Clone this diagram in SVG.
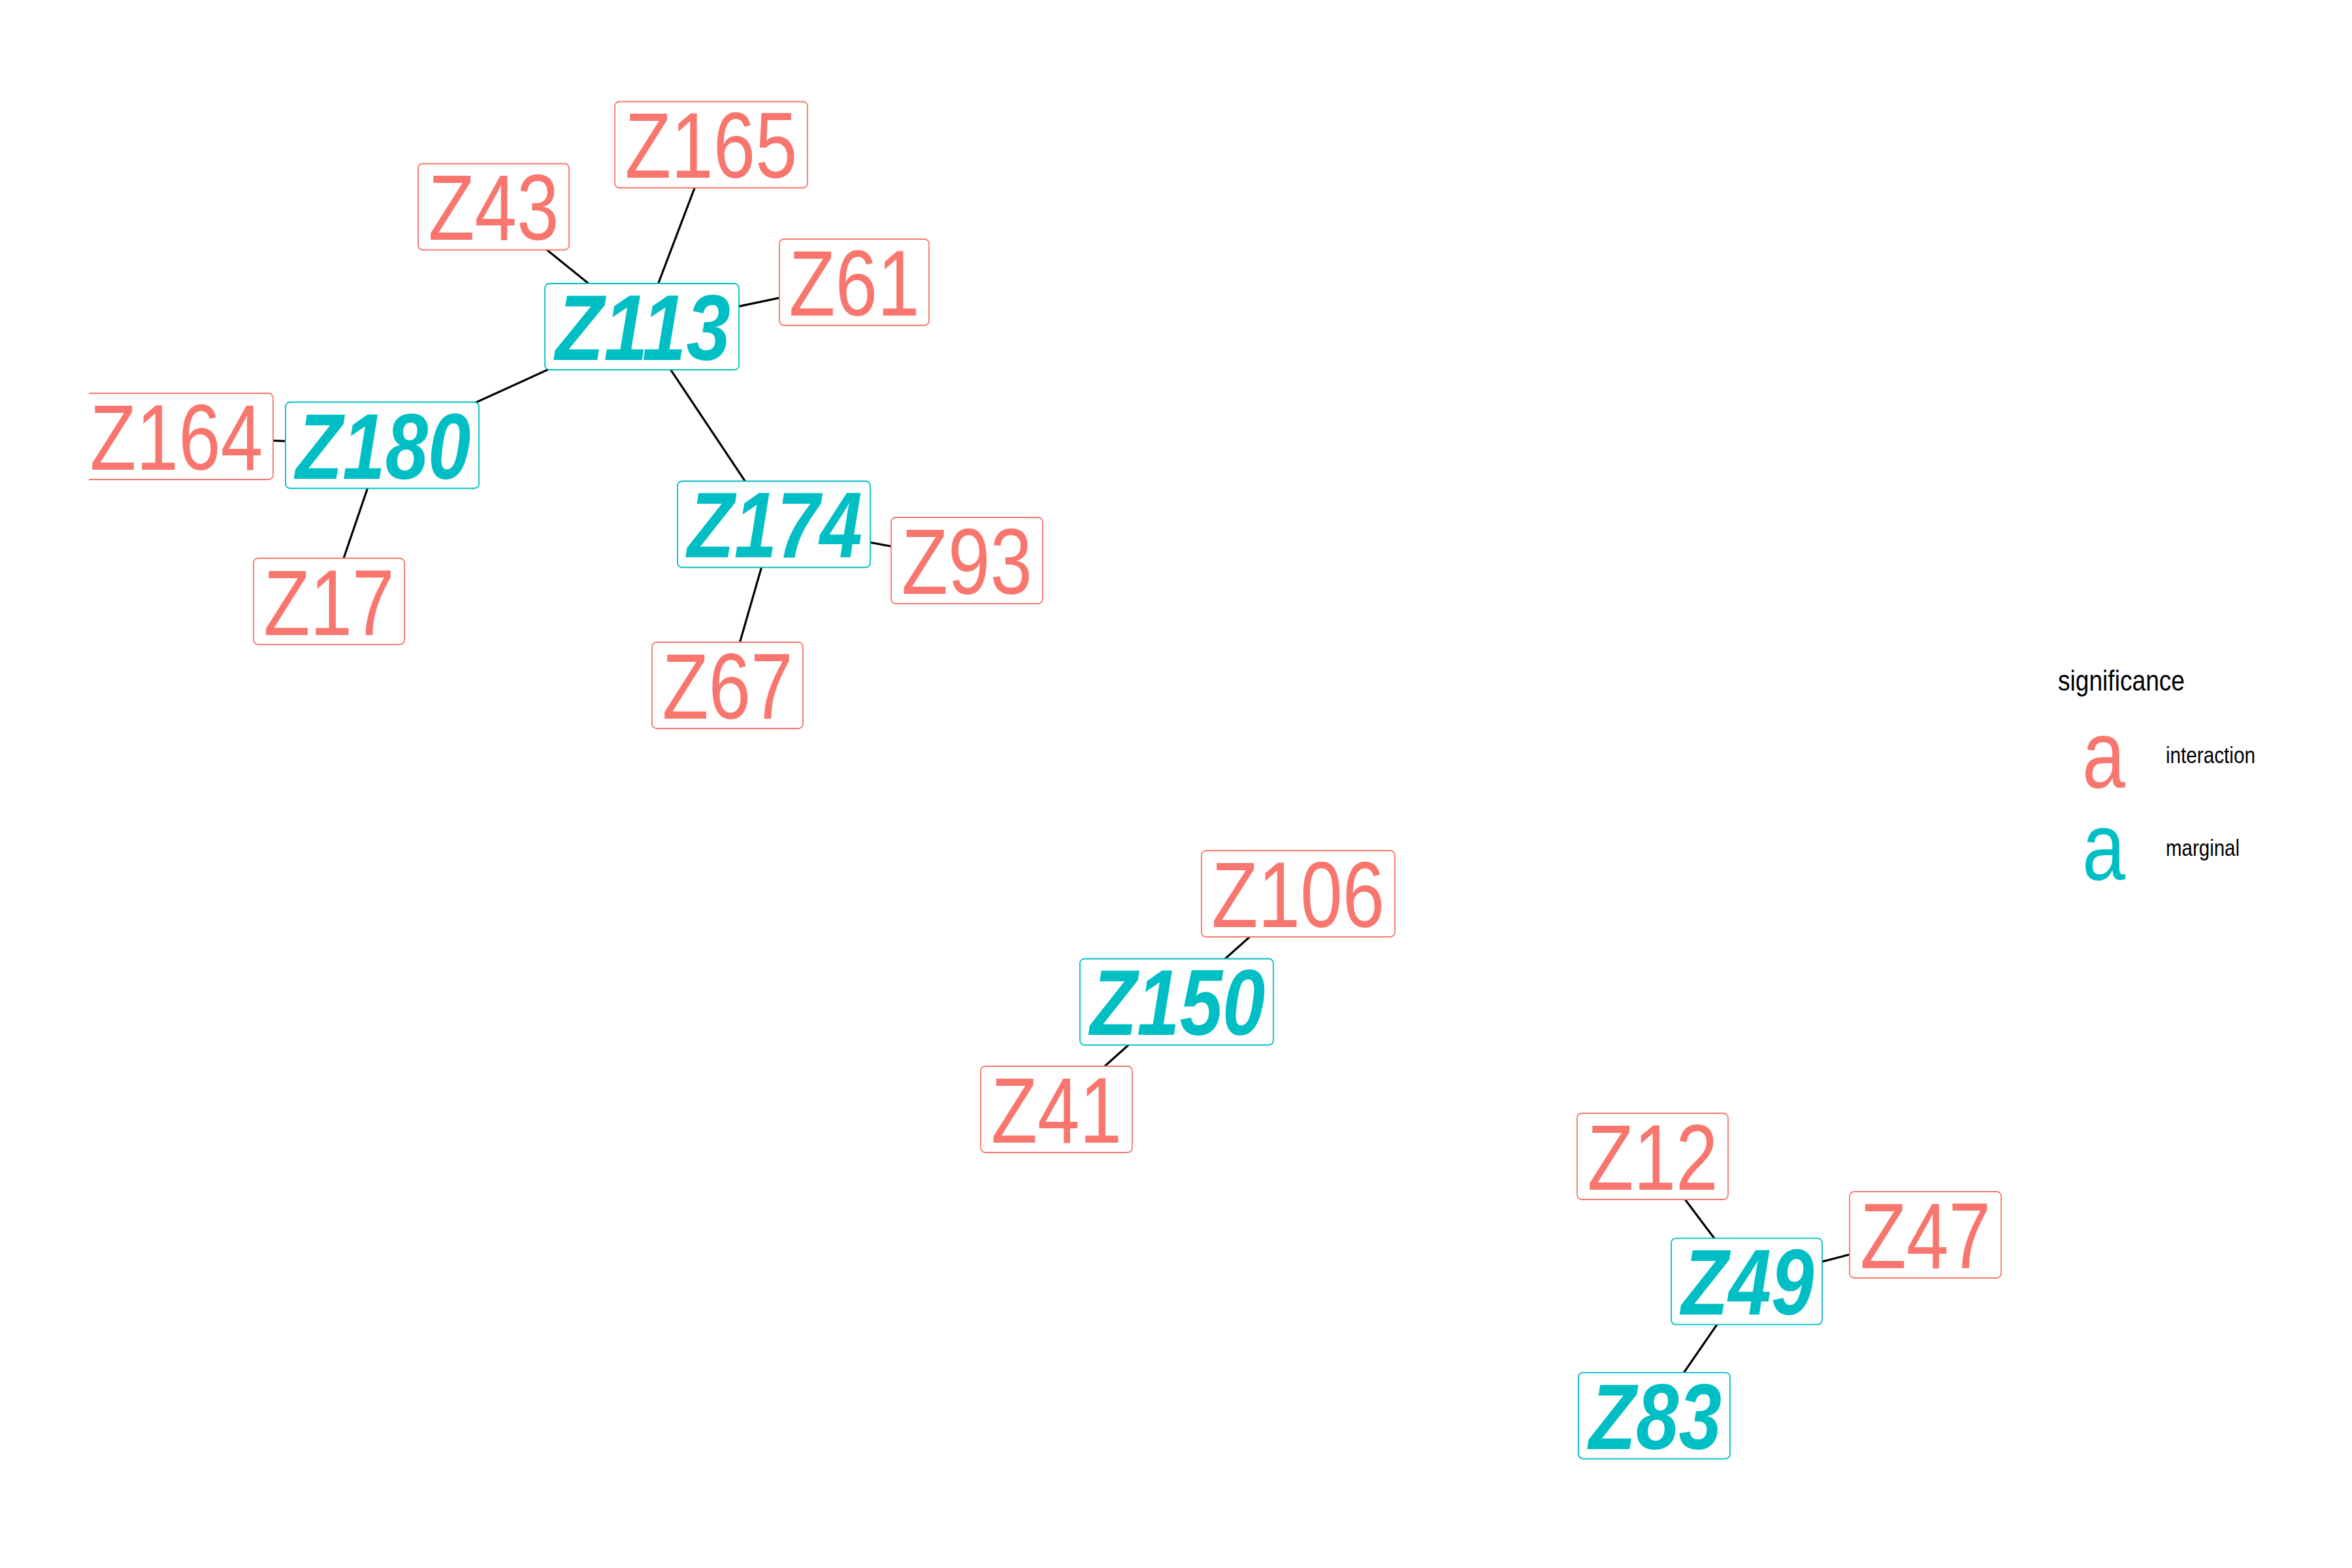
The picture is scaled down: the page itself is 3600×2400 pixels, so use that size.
<svg xmlns="http://www.w3.org/2000/svg" width="3600" height="2400" viewBox="0 0 3600 2400">
<style>
.box{fill:#fff;stroke-width:1.8}
.int .box{stroke:#F8766D}
.mar .box{stroke:#00BFC4}
.lbl{font-family:"Liberation Sans Narrow","Liberation Sans",Arial,sans-serif;font-size:142px;text-anchor:middle}
.int .lbl{fill:#F8766D}
.mar .lbl{fill:#00BFC4;font-weight:bold;font-style:italic}
.edge{stroke:#000;stroke-width:3.2;fill:none}
.leg{font-family:"Liberation Sans Narrow","Liberation Sans",Arial,sans-serif;fill:#000}
</style>
<defs>
<clipPath id="panel"><rect x="136" y="0" width="3464" height="2400"/></clipPath>
</defs>
<rect x="0" y="0" width="3600" height="2400" fill="#fff"/>
<g id="edges">
<line class="edge" x1="755.5" y1="316.5" x2="982.5" y2="500"/>
<line class="edge" x1="1088.5" y1="221" x2="982.5" y2="500"/>
<line class="edge" x1="1307.5" y1="432" x2="982.5" y2="500"/>
<line class="edge" x1="585" y1="681.5" x2="982.5" y2="500"/>
<line class="edge" x1="270" y1="668" x2="585" y2="681.5"/>
<line class="edge" x1="585" y1="681.5" x2="503.5" y2="920.5"/>
<line class="edge" x1="982.5" y1="500" x2="1184.5" y2="802.5"/>
<line class="edge" x1="1184.5" y1="802.5" x2="1480" y2="858"/>
<line class="edge" x1="1184.5" y1="802.5" x2="1113.5" y2="1049"/>
<line class="edge" x1="1987" y1="1368" x2="1801" y2="1533.5"/>
<line class="edge" x1="1801" y1="1533.5" x2="1617" y2="1698"/>
<line class="edge" x1="2529.5" y1="1770" x2="2673.5" y2="1961.3"/>
<line class="edge" x1="2673.5" y1="1961.3" x2="2947" y2="1889.8"/>
<line class="edge" x1="2673.5" y1="1961.3" x2="2532" y2="2166.8"/>
</g>
<g id="Z165" class="int"><rect class="box" x="941" y="155.5" width="295" height="132" rx="7"/><text class="lbl" x="1088.5" y="272" textLength="264" lengthAdjust="spacingAndGlyphs">Z165</text></g>
<g id="Z43" class="int"><rect class="box" x="640" y="250.5" width="231" height="132" rx="7"/><text class="lbl" x="755.5" y="367" textLength="200" lengthAdjust="spacingAndGlyphs">Z43</text></g>
<g id="Z61" class="int"><rect class="box" x="1193" y="366" width="229" height="132" rx="7"/><text class="lbl" x="1307.5" y="483" textLength="200" lengthAdjust="spacingAndGlyphs">Z61</text></g>
<g id="Z113" class="mar"><rect class="box" x="834" y="434" width="297" height="132" rx="7"/><text class="lbl" x="984" y="550.7" textLength="268" lengthAdjust="spacingAndGlyphs">Z113</text></g>
<g id="Z164" class="int" clip-path="url(#panel)"><rect class="box" x="122" y="602" width="296" height="132" rx="7"/><text class="lbl" x="270" y="719" textLength="265" lengthAdjust="spacingAndGlyphs">Z164</text></g>
<g id="Z180" class="mar"><rect class="box" x="437" y="615.5" width="296" height="132" rx="7"/><text class="lbl" x="586.5" y="732.5" textLength="268" lengthAdjust="spacingAndGlyphs">Z180</text></g>
<g id="Z17" class="int"><rect class="box" x="388" y="854.5" width="231" height="132" rx="7"/><text class="lbl" x="503.5" y="971.5" textLength="200" lengthAdjust="spacingAndGlyphs">Z17</text></g>
<g id="Z174" class="mar"><rect class="box" x="1037" y="736.5" width="295" height="132" rx="7"/><text class="lbl" x="1186" y="853" textLength="268" lengthAdjust="spacingAndGlyphs">Z174</text></g>
<g id="Z93" class="int"><rect class="box" x="1364" y="792" width="232" height="132" rx="7"/><text class="lbl" x="1480" y="908.5" textLength="200" lengthAdjust="spacingAndGlyphs">Z93</text></g>
<g id="Z67" class="int"><rect class="box" x="998" y="983" width="231" height="132" rx="7"/><text class="lbl" x="1113.5" y="1099.5" textLength="200" lengthAdjust="spacingAndGlyphs">Z67</text></g>
<g id="Z106" class="int"><rect class="box" x="1839" y="1302" width="296" height="132" rx="7"/><text class="lbl" x="1987" y="1418.7" textLength="265" lengthAdjust="spacingAndGlyphs">Z106</text></g>
<g id="Z150" class="mar"><rect class="box" x="1653" y="1467.5" width="296" height="132" rx="7"/><text class="lbl" x="1802.5" y="1584" textLength="268" lengthAdjust="spacingAndGlyphs">Z150</text></g>
<g id="Z41" class="int"><rect class="box" x="1501" y="1632" width="232" height="132" rx="7"/><text class="lbl" x="1617" y="1748.7" textLength="200" lengthAdjust="spacingAndGlyphs">Z41</text></g>
<g id="Z12" class="int"><rect class="box" x="2414" y="1704" width="231" height="132" rx="7"/><text class="lbl" x="2529.5" y="1820.6" textLength="200" lengthAdjust="spacingAndGlyphs">Z12</text></g>
<g id="Z47" class="int"><rect class="box" x="2831" y="1824" width="232" height="132" rx="7"/><text class="lbl" x="2947" y="1940.8" textLength="200" lengthAdjust="spacingAndGlyphs">Z47</text></g>
<g id="Z49" class="mar"><rect class="box" x="2558" y="1895.3" width="231" height="132" rx="7"/><text class="lbl" x="2675" y="2011.9" textLength="203" lengthAdjust="spacingAndGlyphs">Z49</text></g>
<g id="Z83" class="mar"><rect class="box" x="2416" y="2100.8" width="232" height="132" rx="7"/><text class="lbl" x="2533.5" y="2217.5" textLength="203" lengthAdjust="spacingAndGlyphs">Z83</text></g>
<g id="legend">
<text class="leg" x="3150" y="1057" font-size="45" textLength="194" lengthAdjust="spacingAndGlyphs">significance</text>
<text class="leg" x="3187" y="1206" font-size="146" style="fill:#F8766D" textLength="66" lengthAdjust="spacingAndGlyphs">a</text>
<text class="leg" x="3315" y="1168.3" font-size="35" textLength="137" lengthAdjust="spacingAndGlyphs">interaction</text>
<text class="leg" x="3187" y="1347" font-size="146" style="fill:#00BFC4" textLength="66" lengthAdjust="spacingAndGlyphs">a</text>
<text class="leg" x="3315" y="1310" font-size="35" textLength="113" lengthAdjust="spacingAndGlyphs">marginal</text>
</g>
</svg>
